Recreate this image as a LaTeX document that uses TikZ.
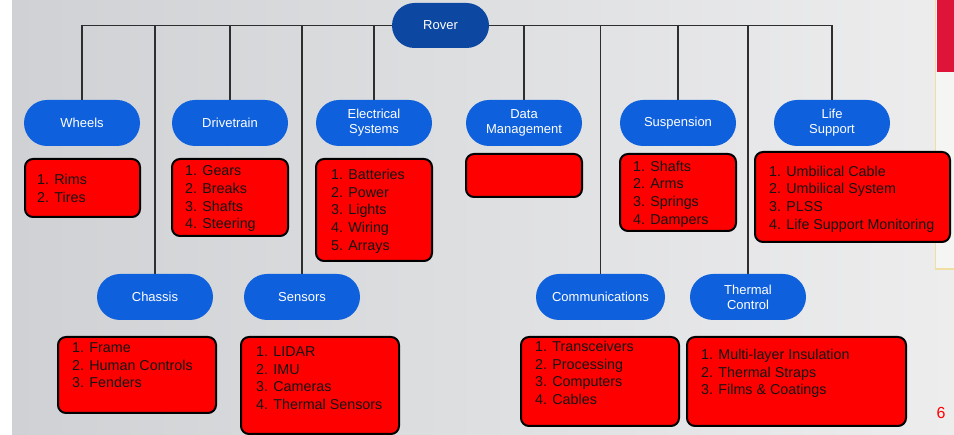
\documentclass[tikz,border=0pt]{standalone}
\usepackage{fontspec}
\setmainfont{Liberation Sans}
\usetikzlibrary{shapes.misc, backgrounds, positioning}
\definecolor{cnavy}{HTML}{0C47A1}
\definecolor{cblue}{HTML}{0F60DD}
\definecolor{cred}{HTML}{FF0000}
\definecolor{cline}{HTML}{2E2E2E}
\definecolor{cbgl}{HTML}{CFD1D4}
\definecolor{cbgr}{HTML}{EDEDEE}
\definecolor{ccrimson}{HTML}{DE1438}
\definecolor{cpale}{HTML}{EFDFA2}
\definecolor{cpaper}{HTML}{F5F5F3}
\tikzset{
  every picture/.style={x=1pt, y=-1pt},
  pill/.style={rounded rectangle, fill=#1, text=white, minimum width=120pt, minimum height=46pt, inner sep=2pt, align=center, font=\fontsize{13}{15}\selectfont},
  pill/.default=cblue,
  listbox/.style={draw=black, fill=cred, line width=2pt, rounded corners=8pt, inner sep=0pt},
  listtext/.style={anchor=north west, inner sep=0pt, align=left, text=black!92, font=\fontsize{14.3}{17.7}\selectfont},
  link/.style={draw=cline, line width=1.1pt},
}

\begin{document}
\begin{tikzpicture}
  \useasboundingbox (0,0) rectangle (954,435);
  % root and top row
  \node[pill=cnavy, minimum width=101pt, minimum height=45pt] (rover) at (440.5,25.5) {Rover};
  \node[pill] (wheels) at (82,123) {Wheels};
  \node[pill] (drivetrain) at (230,123) {Drivetrain};
  \node[pill] (electrical) at (374,123) {Electrical\\Systems};
  \node[pill] (data) at (524,123) {Data\\Management};
  \node[pill] (suspension) at (678,123) {Suspension};
  \node[pill] (life) at (832,123) {Life\\Support};
  % bottom row
  \node[pill] (chassis) at (155,297) {Chassis};
  \node[pill] (sensors) at (302,297) {Sensors};
  \node[pill, minimum width=133pt] (comms) at (600.5,297) {Communications};
  \node[pill] (thermal) at (748,297) {Thermal\\Control};
  % lists
  \node[listbox, minimum width=115pt, minimum height=58pt] (wheelsbox) at (82.5,188) {};
  \node[listtext] (wheelslist) at (37,174) {1. Rims\\2. Tires};
  \node[listbox, minimum width=116pt, minimum height=77pt] (drivebox) at (230,197.5) {};
  \node[listtext] (drivelist) at (185,165.5) {1. Gears\\2. Breaks\\3. Shafts\\4. Steering};
  \node[listbox, minimum width=116pt, minimum height=102pt] (elecbox) at (374,210) {};
  \node[listtext] (eleclist) at (331,169) {1. Batteries\\2. Power\\3. Lights\\4. Wiring\\5. Arrays};
  \node[listbox, minimum width=116pt, minimum height=43pt] (databox) at (524,175.5) {};
  \node[listbox, minimum width=116pt, minimum height=77pt] (suspbox) at (678,192.5) {};
  \node[listtext] (susplist) at (633,160.5) {1. Shafts\\2. Arms\\3. Springs\\4. Dampers};
  \node[listbox, minimum width=195pt, minimum height=90pt] (lifebox) at (852.5,197) {};
  \node[listtext] (lifelist) at (769,165.5) {1. Umbilical Cable\\2. Umbilical System\\3. PLSS\\4. Life Support Monitoring};
  \node[listbox, minimum width=158pt, minimum height=76pt] (chassisbox) at (137,375) {};
  \node[listtext] (chassislist) at (72,342.5) {1. Frame\\2. Human Controls\\3. Fenders};
  \node[listbox, minimum width=158pt, minimum height=97pt] (sensorbox) at (320,385.5) {};
  \node[listtext] (sensorlist) at (256,346.5) {1. LIDAR\\2. IMU\\3. Cameras\\4. Thermal Sensors};
  \node[listbox, minimum width=158pt, minimum height=89pt] (commsbox) at (600,381.5) {};
  \node[listtext] (commslist) at (535,341) {1. Transceivers\\2. Processing\\3. Computers\\4. Cables};
  \node[listbox, minimum width=219pt, minimum height=89pt] (thermalbox) at (796.5,381.5) {};
  \node[listtext] (thermallist) at (701,349) {1. Multi-layer Insulation\\2. Thermal Straps\\3. Films \& Coatings};
  \node[text=cred, font=\fontsize{16}{19}\selectfont] (pagenum) at (941,413) {6};
  % slide background and tree lines
  \begin{scope}[on background layer]
    \fill[white] (0,0) rectangle (954,435);
    \fill[left color=cbgl, right color=cbgr] (12,0) rectangle (954,435);
    \fill[cpaper] (935,0) rectangle (954,269);
    \fill[ccrimson] (937,0) rectangle (954,72);
    \draw[cpale, line width=1.5pt] (935.5,0) -- (935.5,269) -- (954,269);
    \foreach \n in {wheels, chassis, drivetrain, sensors, electrical, data, comms, suspension, thermal, life}
      \draw[link] (rover) -| (\n);
  \end{scope}
\end{tikzpicture}
\end{document}
